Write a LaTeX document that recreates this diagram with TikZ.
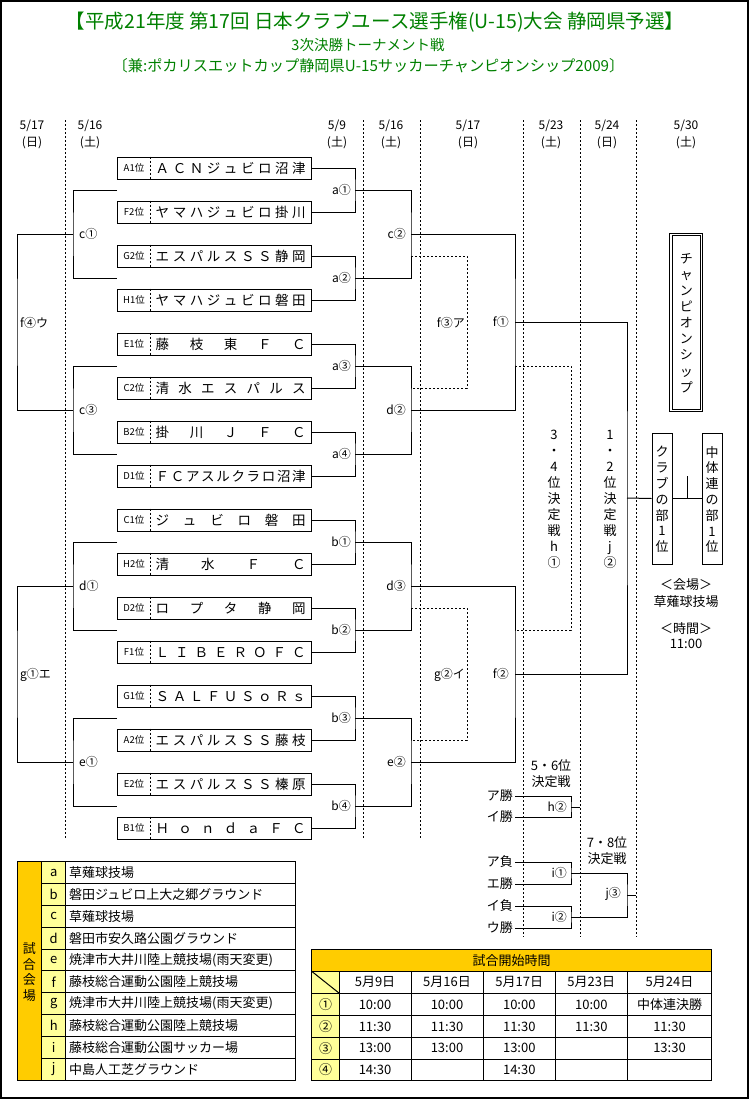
\documentclass[tikz,border=0pt]{standalone}
\usepackage{fontspec}
\usepackage{graphicx}
\setmainfont{Noto Sans CJK JP}
\definecolor{ttlgreen}{RGB}{0,128,0}
\definecolor{hdrorange}{RGB}{255,204,0}
\definecolor{cellyellow}{RGB}{255,255,153}
\makeatletter
\def\spr@end{\spr@end}
\newcommand\spreadname[1]{\hbox to 150pt{\spr@first#1\spr@end}}
\def\spr@first#1{#1\spr@next}
\def\spr@next#1{\ifx#1\spr@end\else\hfill#1\expandafter\spr@next\fi}
\makeatother
\begin{document}
\begin{tikzpicture}[x=1pt,y=-1pt,
  wire/.style={draw=black,line width=1pt},
  dwire/.style={draw=black,line width=1pt,dash pattern=on 2pt off 2pt},
  teambox/.style={draw=black,line width=1pt,minimum width=194pt,minimum height=22pt,inner sep=0pt},
  poslbl/.style={font=\fontsize{9.5}{10}\selectfont,inner sep=0pt},
  namelbl/.style={font=\fontsize{13.5}{14}\selectfont,inner sep=0pt,anchor=west},
  mlbl/.style={font=\fontsize{12}{13}\selectfont,inner sep=0pt},
  datelbl/.style={font=\fontsize{12}{13}\selectfont,inner sep=0pt},
  vbox/.style={draw=black,line width=1pt,minimum width=20pt,minimum height=131pt,inner sep=0pt},
  vtext/.style={font=\fontsize{13}{15.8}\selectfont,align=center,inner sep=0pt},
  tcell/.style={font=\fontsize{13}{14}\selectfont,inner sep=0pt},
  smallt/.style={font=\fontsize{13}{14}\selectfont,inner sep=0pt},
  ttl/.style={text=ttlgreen,inner sep=0pt}
]
\path[use as bounding box] (0,0) rectangle (750,1100);
\draw[line width=1.5pt] (1,1) rectangle (748,1098);

% titles
\node[ttl,font=\fontsize{19.5}{21}\selectfont] (title1) at (375,22) {【平成21年度 第17回 日本クラブユース選手権(U-15)大会 静岡県予選】};
\node[ttl,font=\fontsize{14.5}{16}\selectfont] (title2) at (368,45) {3次決勝トーナメント戦};
\node[ttl,font=\fontsize{15.2}{16}\selectfont] (title3) at (368.5,66) {〔兼:ポカリスエットカップ静岡県U-15サッカーチャンピオンシップ2009〕};

% date headers
\foreach \k/\x/\d/\w in {1/32/5\slash 17/日,2/90/5\slash 16/土,3/337/5\slash 9/土,4/391/5\slash 16/土,5/468/5\slash 17/日,6/551/5\slash 23/土,7/607/5\slash 24/日,8/686/5\slash 30/土}{
  \node[datelbl] (dt\k) at (\x,126) {\d};
  \node[datelbl] (dw\k) at (\x,143) {(\w)};
}

% dashed column separators
\foreach \k/\x/\yb in {1/65/838,2/363/838,3/420/838,4/523/937,5/580/937,6/636/937}{
  \coordinate (sepa\k) at (\x,120);
  \coordinate (sepb\k) at (\x,\yb);
  \draw[dwire] (sepa\k) -- (sepb\k);
}

% teams
\foreach \i/\pos/\name in {1/A1位/ＡＣＮジュビロ沼津,2/F2位/ヤマハジュビロ掛川,3/G2位/エスパルスＳＳ静岡,4/H1位/ヤマハジュビロ磐田,5/E1位/藤枝東ＦＣ,6/C2位/清水エスパルス,7/B2位/掛川ＪＦＣ,8/D1位/ＦＣアスルクラロ沼津,9/C1位/ジュビロ磐田,10/H2位/清水ＦＣ,11/D2位/ロプタ静岡,12/F1位/ＬＩＢＥＲＯＦＣ,13/G1位/ＳＡＬＦＵＳｏＲｓ,14/A2位/エスパルスＳＳ藤枝,15/E2位/エスパルスＳＳ榛原,16/B1位/ＨｏｎｄａＦＣ}{
  \node[teambox] (t\i) at (214,{168+44*(\i-1)}) {};
  \draw[dwire] ([xshift=34pt]t\i.north west) -- ([xshift=34pt]t\i.south west);
  \node[poslbl] (p\i) at (134,{168+44*(\i-1)}) {\pos};
  \node[namelbl] (n\i) at (155.5,{168.5+44*(\i-1)}) {\expandafter\spreadname\expandafter{\name}};
}

% first round (a, b)
\foreach \k/\lab in {1/a①,2/a②,3/a③,4/a④,5/b①,6/b②,7/b③,8/b④}{
  \pgfmathtruncatemacro\ta{2*\k-1}
  \pgfmathtruncatemacro\tb{2*\k}
  \coordinate (m\k) at (355,{190+88*(\k-1)});
  \draw[wire] (t\ta.east) -| (m\k) |- (t\tb.east);
  \node[mlbl,anchor=east] (ml\k) at (351,{190+88*(\k-1)}) {\lab};
}
% second round
\foreach \k/\lab in {1/c②,2/d②,3/d③,4/e②}{
  \pgfmathtruncatemacro\ma{2*\k-1}
  \pgfmathtruncatemacro\mb{2*\k}
  \coordinate (s\k) at (411,{234+176*(\k-1)});
  \draw[wire] (m\ma) -| (s\k) |- (m\mb);
  \node[mlbl,anchor=east] (sl\k) at (406,{234+176*(\k-1)}) {\lab};
}
% third round
\coordinate (r1) at (515,322);
\coordinate (r2) at (515,674);
\draw[wire] (s1) -| (r1) |- (s2);
\draw[wire] (s3) -| (r2) |- (s4);
\node[mlbl,anchor=east] (rl1) at (509,322) {f①};
\node[mlbl,anchor=east] (rl2) at (509,674) {f②};

% loser brackets (dashed)
\coordinate (la1) at (411,256); \coordinate (lb1) at (411,388); \coordinate (l1) at (467,322);
\coordinate (la2) at (411,608); \coordinate (lb2) at (411,740); \coordinate (l2) at (467,674);
\draw[dwire] (la1) -| (l1) |- (lb1);
\draw[dwire] (la2) -| (l2) |- (lb2);
\node[mlbl,anchor=east] (ll1) at (465,323) {f③ア};
\node[mlbl,anchor=east] (ll2) at (465,675) {g②イ};
\coordinate (ha) at (515,366); \coordinate (hb) at (515,630); \coordinate (h1) at (571,498);
\draw[dwire] (ha) -| (h1) |- (hb);

% left brackets (c1, c3, d1, e1)
\foreach \k/\lab/\ya in {1/c①/190,2/c③/366,3/d①/542,4/e①/718}{
  \coordinate (ca\k) at (117,\ya);
  \coordinate (cb\k) at (117,{\ya+88});
  \coordinate (c\k) at (73,{\ya+44});
  \draw[wire] (ca\k) -| (c\k) |- (cb\k);
  \node[mlbl,anchor=west] (cl\k) at (79,{\ya+44}) {\lab};
}
\coordinate (lf1) at (17,322);
\coordinate (lf2) at (17,674);
\draw[wire] (c1) -| (lf1) |- (c2);
\draw[wire] (c3) -| (lf2) |- (c4);
\node[mlbl,anchor=west] (lfl1) at (20,323) {f④ウ};
\node[mlbl,anchor=west] (lfl2) at (20,675) {g①エ};

% final
\node[vbox] (club) at (662,498.5) {};
\node[vtext] (clubt) at (662,499.5) {ク\\ラ\\ブ\\の\\部\\1\\位};
\node[vbox] (chu) at (712,498.5) {};
\node[vtext] (chut) at (712,499.5) {中\\体\\連\\の\\部\\1\\位};
\coordinate (fin) at (627,498);
\draw[wire] (r1) -| (fin) |- (r2);
\draw[wire] (fin) -- (club.west);
\draw[wire] (club.east) -- (chu.west);
\coordinate (tka) at (687,476);
\coordinate (tkb) at (687,498);
\draw[wire] (tka) -- (tkb);

\node[draw=black,line width=1pt,minimum width=33pt,minimum height=178.5pt,inner sep=0pt] (champ) at (686.4,322.5) {};
\draw[line width=1pt] ([shift={(2.7,2.7)}]champ.north west) rectangle ([shift={(-2.7,-2.7)}]champ.south east);
\node[vtext,font=\fontsize{13}{16.1}\selectfont] (champt) at (686.4,323) {チ\\ャ\\ン\\ピ\\オ\\ン\\シ\\ッ\\プ};

\node[vtext,font=\fontsize{13}{16}\selectfont] (v34) at (554,499) {3\\・\\4\\位\\決\\定\\戦\\h\\①};
\node[vtext,font=\fontsize{13}{16}\selectfont] (v12) at (610,499) {1\\・\\2\\位\\決\\定\\戦\\j\\②};

\node[smallt] (kaijo) at (686,585) {＜会場＞};
\node[smallt] (kusa) at (686,601.5) {草薙球技場};
\node[smallt] (jikan) at (686,629) {＜時間＞};
\node[smallt] (jtime) at (686,644) {11:00};

% placement matches
\node[smallt] (p56a) at (551,766) {5・6位};
\node[smallt] (p56b) at (551,782) {決定戦};
\node[smallt] (p78a) at (607,843) {7・8位};
\node[smallt] (p78b) at (607,859) {決定戦};
\node[smallt,anchor=east] (aw) at (513,796) {ア勝};
\node[smallt,anchor=east] (iw) at (513,817) {イ勝};
\node[smallt,anchor=east] (al) at (513,862) {ア負};
\node[smallt,anchor=east] (ew) at (513,884) {エ勝};
\node[smallt,anchor=east] (il) at (513,906) {イ負};
\node[smallt,anchor=east] (uw) at (513,928) {ウ勝};
\coordinate (h2) at (571,807);
\coordinate (h2e) at (580,807);
\coordinate (i1) at (571,873);
\coordinate (i2) at (571,917);
\coordinate (j3) at (627,895);
\coordinate (j3e) at (636,895);
\draw[wire] ([xshift=2pt]aw.east) -| (h2) |- ([xshift=2pt]iw.east);
\draw[wire] (h2) -- (h2e);
\draw[wire] ([xshift=2pt]al.east) -| (i1) |- ([xshift=2pt]ew.east);
\draw[wire] ([xshift=2pt]il.east) -| (i2) |- ([xshift=2pt]uw.east);
\draw[wire] (i1) -| (j3) |- (i2);
\draw[wire] (j3) -- (j3e);
\node[mlbl,anchor=east] (h2l) at (567,807) {h②};
\node[mlbl,anchor=east] (i1l) at (567,873) {i①};
\node[mlbl,anchor=east] (i2l) at (567,917) {i②};
\node[mlbl,anchor=east] (j3l) at (621,894) {j③};

% venue table
\fill[hdrorange] (17.3,861.7) rectangle (41.7,1080);
\fill[cellyellow] (41.7,861.7) rectangle (65.7,1080);
\draw[line width=1pt] (17.3,861.7) rectangle (295.7,1080);
\draw[line width=1pt] (41.7,861.7) -- (41.7,1080);
\draw[line width=1pt] (65.7,861.7) -- (65.7,1080);
\foreach \k in {1,...,9}{
  \draw[line width=1pt] (41.7,{861.7+21.83*\k}) -- (295.7,{861.7+21.83*\k});
}
\node[vtext,font=\fontsize{13}{15.6}\selectfont] (shiai) at (29.5,972) {試\\合\\会\\場};
\foreach \k/\l/\v in {0/a/草薙球技場,1/b/磐田ジュビロ上大之郷グラウンド,2/c/草薙球技場,3/d/磐田市安久路公園グラウンド,4/e/焼津市大井川陸上競技場(雨天変更),5/f/藤枝総合運動公園陸上競技場,6/g/焼津市大井川陸上競技場(雨天変更),7/h/藤枝総合運動公園陸上競技場,8/i/藤枝総合運動公園サッカー場,9/j/中島人工芝グラウンド}{
  \node[tcell] (vl\k) at (53.7,{872.6+21.83*\k}) {\l};
  \node[tcell,anchor=west] (vn\k) at (69,{872.6+21.83*\k}) {\v};
}

% time table
\fill[hdrorange] (311.7,949.3) rectangle (711.7,971.3);
\fill[cellyellow] (311.7,971.3) rectangle (339.3,1080);
\draw[line width=1pt] (311.7,949.3) rectangle (711.7,1080);
\foreach \yy in {971.3,993.3,1015.7,1037.3,1059.3}{
  \draw[line width=1pt] (311.7,\yy) -- (711.7,\yy);
}
\foreach \xx in {339.3,411,483.3,555.3,627.3}{
  \draw[line width=1pt] (\xx,971.3) -- (\xx,1080);
}
\draw[line width=1pt] (311.7,971.3) -- (339.3,993.3);
\node[tcell] (thdr) at (511.7,960.3) {試合開始時間};
\foreach \k/\x/\d in {1/375/5月9日,2/447/5月16日,3/519.3/5月17日,4/591.3/5月23日,5/669.5/5月24日}{
  \node[tcell] (th\k) at (\x,982.3) {\d};
}
\foreach \k/\yy/\c in {1/1004.5/①,2/1026.5/②,3/1048.3/③,4/1069.7/④}{
  \node[tcell] (tr\k) at (325.5,\yy) {\c};
}
\foreach \k/\x/\yy/\t in {a/375/1004.5/10:00,b/447/1004.5/10:00,c/519.3/1004.5/10:00,d/591.3/1004.5/10:00,e/669.5/1004.5/中体連決勝,
  f/375/1026.5/11:30,g/447/1026.5/11:30,h/519.3/1026.5/11:30,i/591.3/1026.5/11:30,j/669.5/1026.5/11:30,
  k/375/1048.3/13:00,l/447/1048.3/13:00,m/519.3/1048.3/13:00,n/669.5/1048.3/13:30,
  o/375/1069.7/14:30,p/519.3/1069.7/14:30}{
  \node[tcell] (tc\k) at (\x,\yy) {\t};
}
\end{tikzpicture}
\end{document}
